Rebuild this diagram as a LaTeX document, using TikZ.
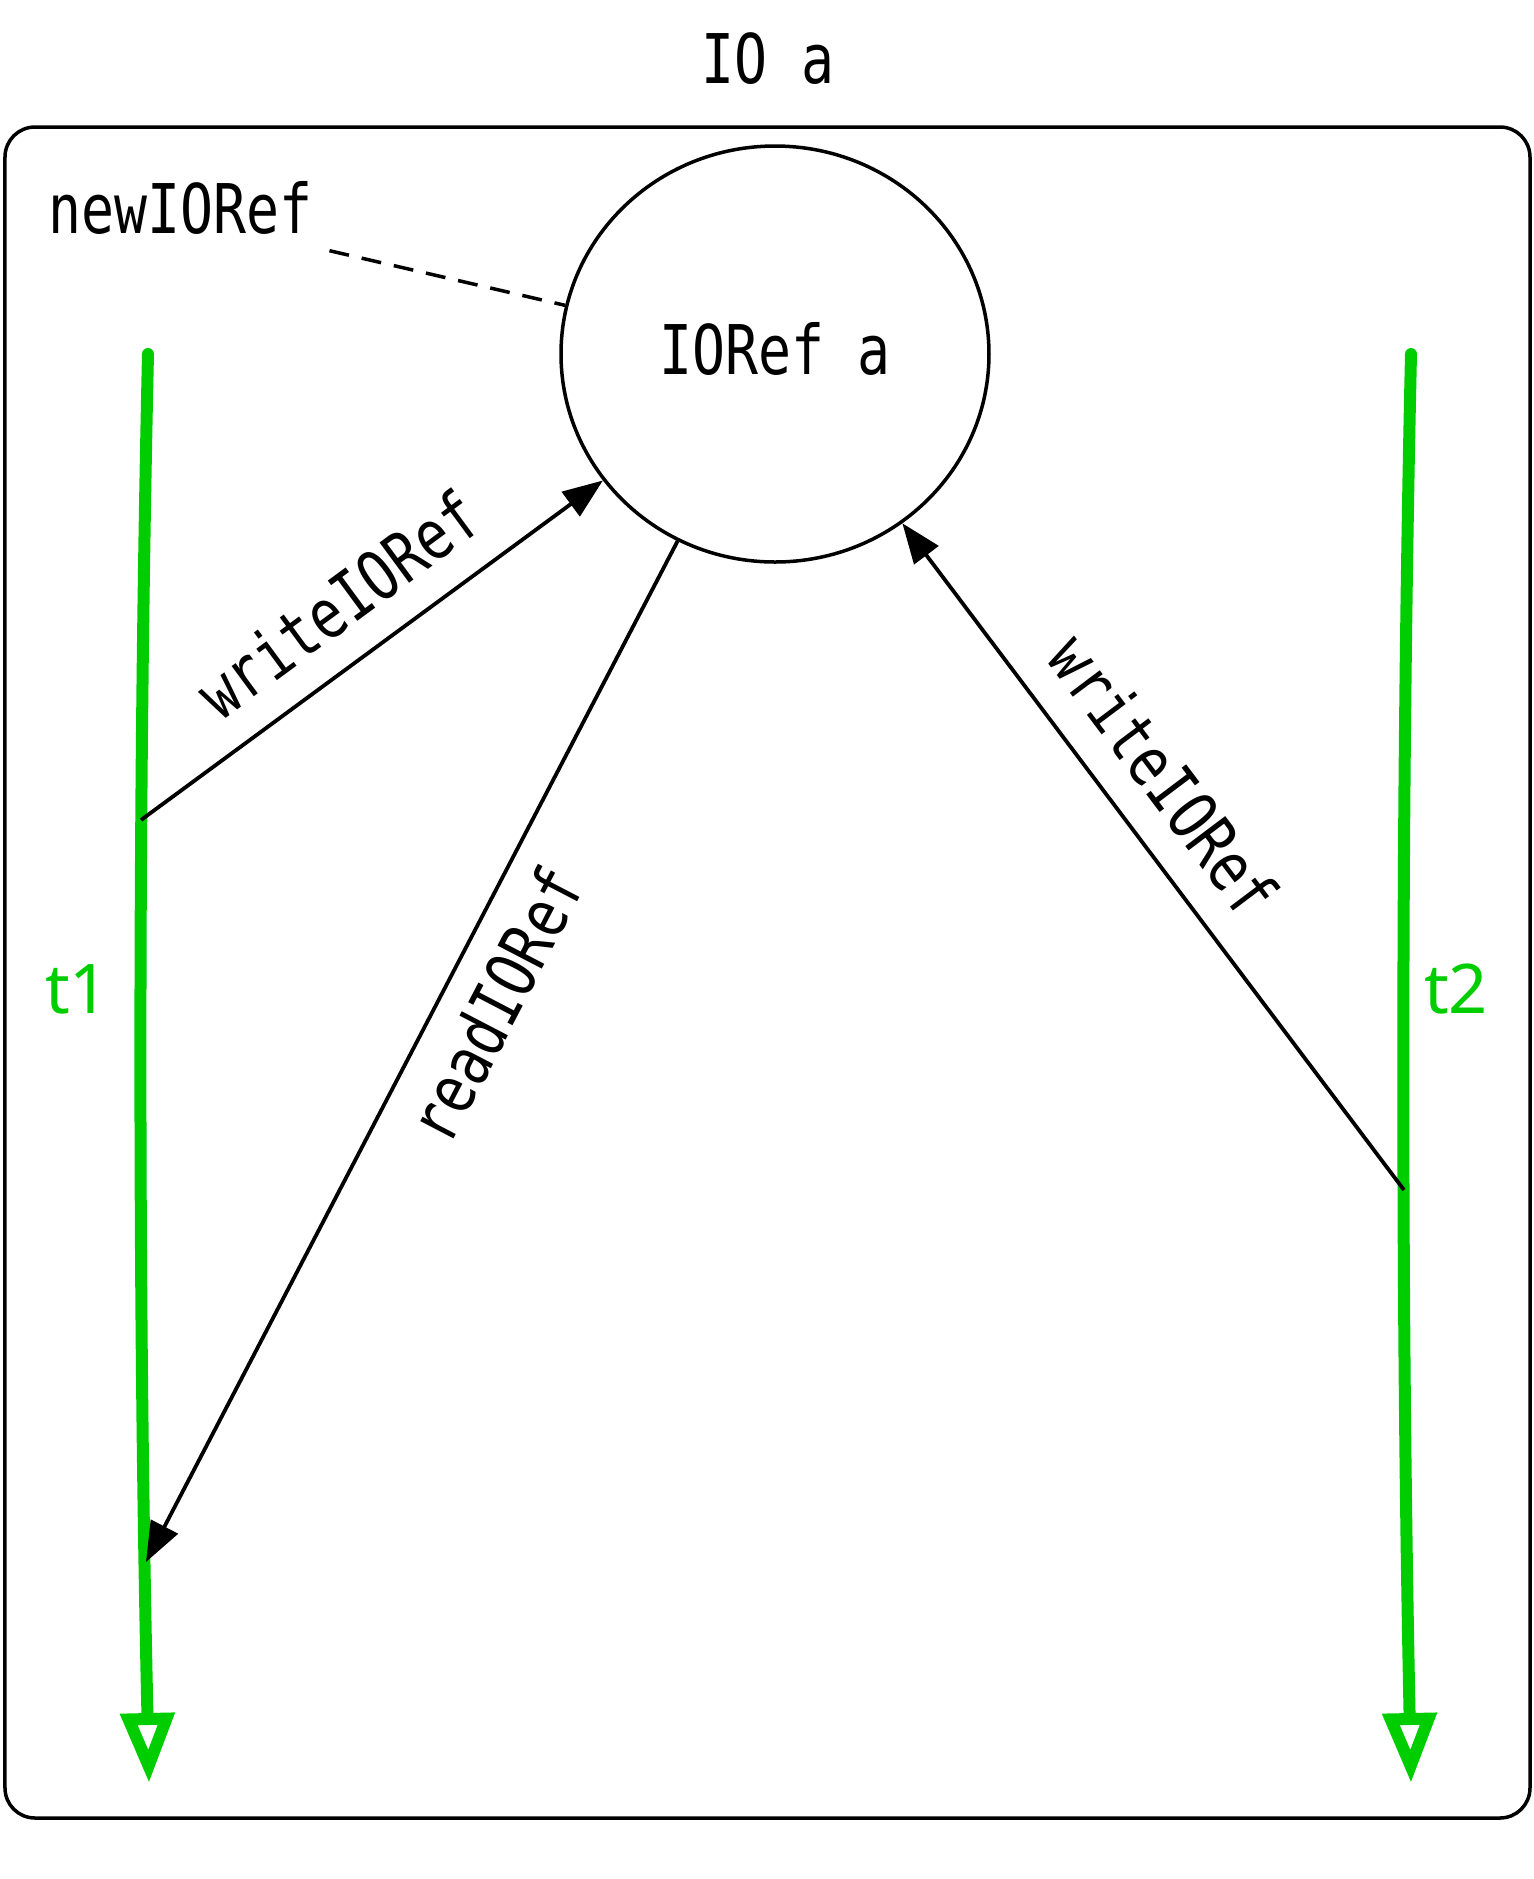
\documentclass[tikz,border=0pt]{standalone}
\usepackage{fontspec}
\setmonofont[FakeStretch=0.8]{DejaVu Sans Mono}
\newfontfamily\threadfont{Noto Sans}
\usetikzlibrary{shapes.geometric, arrows.meta}
\definecolor{threadgreen}{RGB}{0,205,0}

\begin{document}
\begin{tikzpicture}[x=0.1mm, y=-0.1mm,
  font=\ttfamily\fontsize{19.5}{23}\selectfont,
  refnode/.style = {draw, ellipse, line width=0.35mm, minimum width=42.8mm, minimum height=41.6mm, inner sep=0pt, text depth=1.2mm},
  edge/.style = {line width=0.38mm, -{Triangle[length=4mm, width=3mm]}},
  lbl/.style = {sloped, inner sep=0pt},
  thread/.style = {threadgreen, line width=1.2mm, line cap=round, -{Triangle[open, length=7mm, width=5.2mm]}},
  tlbl/.style = {text=threadgreen, font=\threadfont\fontsize{19.5}{23}\selectfont, anchor=base}]
  \useasboundingbox (0,0) rectangle (1533,1879);
  \draw[line width=0.35mm, rounded corners=3mm] (5,127) rectangle (1530,1818);
  \node[anchor=base] (title) at (768,83) {IO a};
  \node[refnode] (ref) at (775,354) {IORef a};
  \node[anchor=base west, inner sep=1.6mm] (new) at (32,233) {newIORef};
  \draw[line width=0.35mm, dash pattern=on 2mm off 1.3mm] (new.south east) -- (ref);
  % threads
  \coordinate (t1s) at (148,354);
  \coordinate (t1e) at (149,1783);
  \coordinate (t2s) at (1411,354);
  \coordinate (t2e) at (1411,1783);
  \draw[thread] (t1s) .. controls (138,800) and (138,1300) .. (t1e);
  \draw[thread] (t2s) .. controls (1401,800) and (1401,1300) .. (t2e);
  \node[tlbl] (t1) at (77,1013) {t1};
  \node[tlbl] (t2) at (1456,1013) {t2};
  % actions
  \coordinate (w1) at (141,820);
  \coordinate (r1) at (146,1562);
  \coordinate (w2) at (1404,1190);
  \draw[edge] (w1) -- node[lbl, pos=0.5, above=2.9mm] {writeIORef} (ref);
  \draw[edge] (ref) -- node[lbl, pos=0.43, below=2.4mm] {readIORef} (r1);
  \draw[edge] (w2) -- node[lbl, pos=0.57, above=2.9mm] {writeIORef} (ref);
\end{tikzpicture}
\end{document}
